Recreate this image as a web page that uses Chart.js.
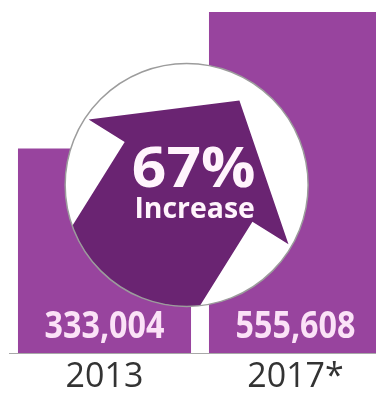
<!DOCTYPE html>
<html lang="en">
<head>
  <meta charset="UTF-8">
  <title>Increase 2013 - 2017</title>
  <script src="https://cdn.jsdelivr.net/npm/chart.js"></script>
  <style>
    html, body { margin: 0; padding: 0; background: #fff; overflow: hidden; }
    #wrap { position: absolute; left: 0; top: 0; width: 392px; height: 393px; }
  </style>
</head>
<body>
  <div id="wrap"><canvas id="increaseChart"></canvas></div>

  <script>
    const years = ['2013', '2017*'];
    const counts = [333004, 555608];

    const barColor = '#98449e';
    const arrowColor = '#6a2472';

    // white disc with the big arrow and the percent change
    const increaseBadge = {
      id: 'increaseBadge',
      afterDatasetsDraw(chart) {
        const { ctx, chartArea } = chart;
        const w = chartArea.right - chartArea.left;
        const h = chartArea.bottom - chartArea.top;
        const cx = chartArea.left + 0.465 * w;
        const cy = chartArea.top + 0.524 * h;
        const r = 0.318 * w;

        ctx.save();
        ctx.beginPath();
        ctx.arc(cx, cy, r, 0, Math.PI * 2);
        ctx.fillStyle = '#ffffff';
        ctx.fill();
        ctx.clip();

        // arrow in its own frame: +u forward, v across, units of r
        const ang = -58 * Math.PI / 180;
        const pts = [
          [0.82, 0], [0.03, 0.97], [0.03, 0.62], [-1.3, 0.62],
          [-1.3, -0.62], [0.03, -0.62], [0.03, -0.97]
        ];
        ctx.translate(cx, cy);
        ctx.rotate(ang);
        ctx.beginPath();
        pts.forEach(([u, v], i) => {
          if (i === 0) ctx.moveTo(u * r, v * r);
          else ctx.lineTo(u * r, v * r);
        });
        ctx.closePath();
        ctx.fillStyle = arrowColor;
        ctx.fill();
        ctx.restore();

        ctx.save();
        ctx.beginPath();
        ctx.arc(cx, cy, r, 0, Math.PI * 2);
        ctx.strokeStyle = '#9c9c9c';
        ctx.lineWidth = 1.5;
        ctx.stroke();

        const pct = Math.round((counts[1] / counts[0] - 1) * 100);
        ctx.fillStyle = '#fff4fc';
        ctx.textAlign = 'center';
        ctx.textBaseline = 'alphabetic';

        ctx.save();
        ctx.translate(cx + 7, cy + 2);
        ctx.scale(1.1, 1);
        ctx.font = 'bold 55px "Open Sans"';
        ctx.fillText(pct + '%', 0, 0);
        ctx.restore();

        ctx.save();
        ctx.translate(cx + 8, cy + 33);
        ctx.scale(0.98, 1);
        ctx.font = 'bold 29px "Open Sans"';
        ctx.fillText('Increase', 0, 0);
        ctx.restore();

        ctx.restore();
      }
    };

    // value printed at the foot of each bar
    const barValues = {
      id: 'barValues',
      afterDatasetsDraw(chart) {
        const { ctx } = chart;
        const meta = chart.getDatasetMeta(0);
        ctx.save();
        ctx.fillStyle = '#fbe2f7';
        ctx.textAlign = 'center';
        ctx.textBaseline = 'alphabetic';
        ctx.font = 'bold 38px "Open Sans"';
        meta.data.forEach((bar, i) => {
          ctx.save();
          ctx.translate(bar.x, bar.base - 15);
          ctx.scale(0.85, 1);
          ctx.fillText(counts[i].toLocaleString('en-US'), 0, 0);
          ctx.restore();
        });
        ctx.restore();
      }
    };

    new Chart(document.getElementById('increaseChart'), {
      type: 'bar',
      data: {
        labels: years,
        datasets: [{
          data: counts,
          backgroundColor: barColor,
          borderWidth: 0,
          categoryPercentage: 1,
          barPercentage: 0.906
        }]
      },
      options: {
        responsive: true,
        maintainAspectRatio: false,
        animation: false,
        layout: { padding: { left: 9, right: 1, top: 0, bottom: 0 } },
        plugins: {
          legend: { display: false },
          tooltip: { enabled: false }
        },
        scales: {
          x: {
            grid: { display: false, drawTicks: true, tickLength: 9 },
            border: { display: true, color: '#a8a8a8', width: 1 },
            ticks: {
              color: '#333333',
              padding: 0.5,
              font: { family: '"Open Sans"', size: 34, lineHeight: 30 / 34 }
            }
          },
          y: {
            display: false,
            min: 0,
            max: 575000
          }
        }
      },
      plugins: [increaseBadge, barValues]
    });
  </script>
</body>
</html>
